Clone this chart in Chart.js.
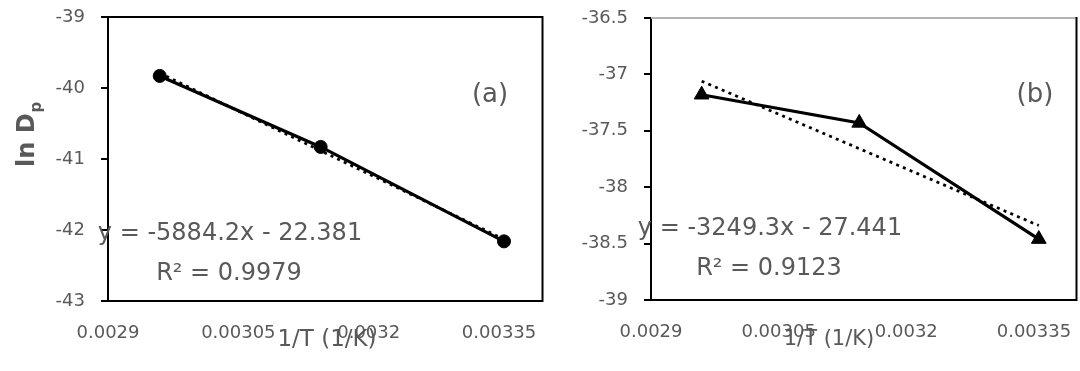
<!DOCTYPE html>
<html>
<head>
<meta charset="utf-8">
<script src="https://cdn.jsdelivr.net/npm/chart.js@4.4.0/dist/chart.umd.min.js"></script>
<style>
  body { margin: 0; background: #fff; overflow: hidden; }
  .panel { position: absolute; top: 0; }
</style>
</head>
<body>
<div class="panel" style="left:0"><canvas id="chartA" width="550" height="371"></canvas></div>
<div class="panel" style="left:544px"><canvas id="chartB" width="542" height="371"></canvas></div>
<script>
// values
const invT = [0.0029595, 0.0031447, 0.0033557];
const lnDpA = [-39.83, -40.83, -42.16];
const lnDpB = [-37.18, -37.43, -38.46];
const trendX = [0.0029595, 0.0033557];
const trendA = [-39.79, -42.13];
const trendB = [-37.06, -38.34];
const xTicks = [0.0029, 0.00305, 0.0032, 0.00335];
const yTicksA = [-43, -42, -41, -40, -39];
const yTicksB = [-39, -38.5, -38, -37.5, -37, -36.5];
const eqA = ['y = -5884.2x - 22.381', 'R\u00b2 = 0.9979'];
const eqB = ['y = -3249.3x - 27.441', 'R\u00b2 = 0.9123'];

const FONT = 'DejaVu Sans';
const GREY = '#595959';

// frame lines + free text (equations, panel letters, axis titles)
const deco = {
    id: 'deco',
    afterDraw(chart, args, o) {
        const ctx = chart.ctx;
        const a = chart.chartArea;
        ctx.save();
        ctx.lineWidth = 2;
        ctx.strokeStyle = o.topColor;
        ctx.beginPath();
        ctx.moveTo(a.left, a.top);
        ctx.lineTo(a.right, a.top);
        ctx.stroke();
        ctx.strokeStyle = '#000';
        ctx.beginPath();
        ctx.moveTo(a.right, a.top - 1);
        ctx.lineTo(a.right, a.bottom + 1);
        ctx.stroke();

        ctx.fillStyle = GREY;
        ctx.textAlign = 'center';
        ctx.textBaseline = 'alphabetic';
        o.texts.forEach(t => {
            ctx.font = t.size + 'px "' + FONT + '"';
            ctx.fillText(t.text, t.x, t.y);
        });

        if (o.yTitle) {
            ctx.translate(34, 167);
            ctx.rotate(-Math.PI / 2);
            ctx.textAlign = 'left';
            ctx.font = 'bold 24px "' + FONT + '"';
            ctx.fillText('ln D', 0, 0);
            const w = ctx.measureText('ln D').width;
            ctx.font = 'bold 15px "' + FONT + '"';
            ctx.fillText('p', w + 1, 7);
        }
        ctx.restore();
    }
};

function makeChart(id, yData, trend, yTicks, yMin, yMax, marker, pad, decoOpts) {
    const ctx = document.getElementById(id).getContext('2d');
    return new Chart(ctx, {
        type: 'scatter',
        data: {
            datasets: [{
                label: 'trend',
                data: trendX.map((x, i) => ({ x: x, y: trend[i] })),
                showLine: true,
                borderColor: '#000',
                borderWidth: 2.75,
                borderDash: [3, 4.3],
                pointRadius: 0
            }, {
                label: 'ln Dp',
                data: invT.map((x, i) => ({ x: x, y: yData[i] })),
                showLine: true,
                borderColor: '#000',
                backgroundColor: '#000',
                borderWidth: 3.2,
                pointStyle: marker.style,
                pointRadius: marker.r,
                pointBorderWidth: 1
            }]
        },
        options: {
            responsive: false,
            animation: false,
            layout: { padding: { top: pad.top, right: 2, left: 0, bottom: 0 } },
            plugins: {
                legend: { display: false },
                tooltip: { enabled: false },
                deco: decoOpts
            },
            scales: {
                x: {
                    type: 'linear',
                    min: 0.0029,
                    max: 0.0034,
                    afterBuildTicks: axis => { axis.ticks = xTicks.map(v => ({ value: v })); },
                    afterFit: axis => {
                        axis.height = pad.xh;
                        axis.paddingLeft = 0;
                        axis.paddingRight = 0;
                    },
                    grid: { display: false, drawTicks: false },
                    border: { display: true, color: '#000', width: 2 },
                    ticks: {
                        padding: 22,
                        color: GREY,
                        font: { family: FONT, size: 18 },
                        maxRotation: 0,
                        autoSkip: false,
                        callback: v => String(v)
                    }
                },
                y: {
                    min: yMin,
                    max: yMax,
                    afterBuildTicks: axis => { axis.ticks = yTicks.map(v => ({ value: v })); },
                    afterFit: axis => {
                        axis.width = pad.yw;
                        axis.paddingTop = 0;
                        axis.paddingBottom = 0;
                    },
                    grid: {
                        drawOnChartArea: false,
                        drawTicks: true,
                        tickLength: 7,
                        tickColor: '#000',
                        lineWidth: 2
                    },
                    border: { display: true, color: '#000', width: 2 },
                    ticks: {
                        padding: 16,
                        color: GREY,
                        font: { family: FONT, size: 18 },
                        callback: v => String(v)
                    }
                }
            }
        },
        plugins: [deco]
    });
}

makeChart('chartA', lnDpA, trendA, yTicksA, -43, -39,
    { style: 'circle', r: 6.5 },
    { top: 17, xh: 70, yw: 108 },
    {
        topColor: '#000',
        yTitle: true,
        texts: [
            { text: eqA[0], x: 230, y: 240, size: 24 },
            { text: eqA[1], x: 229, y: 280, size: 24 },
            { text: '(a)', x: 490, y: 102, size: 26 },
            { text: '1/T (1/K)', x: 327, y: 346, size: 23 }
        ]
    });

makeChart('chartB', lnDpB, trendB, yTicksB, -39, -36.5,
    { style: 'triangle', r: 8.5 },
    { top: 18, xh: 71, yw: 107 },
    {
        topColor: '#b4b4b4',
        yTitle: false,
        texts: [
            { text: eqB[0], x: 226, y: 235, size: 24 },
            { text: eqB[1], x: 225, y: 275, size: 24 },
            { text: '(b)', x: 491, y: 102, size: 26 },
            { text: '1/T (1/K)', x: 285, y: 345, size: 21 }
        ]
    });
</script>
</body>
</html>
